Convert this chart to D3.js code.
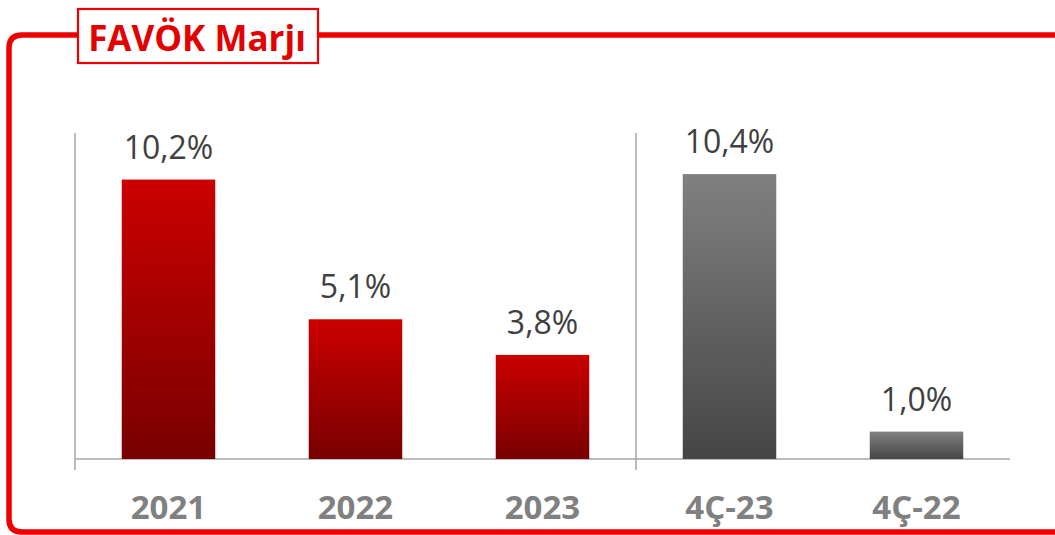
<!DOCTYPE html>
<html>
<head>
<meta charset="utf-8">
<script src="https://cdn.jsdelivr.net/npm/d3@7"></script>
<style>
  body { margin: 0; background: #fff; }
  svg { display: block; font-family: "Open Sans", sans-serif; }
</style>
</head>
<body>
<div class="chart"></div>
<script>
var svgWidth = 1055;
var svgHeight = 535;

// data
var categories = ["2021", "2022", "2023", "4Ç-23", "4Ç-22"];
var values = [10.2, 5.1, 3.8, 10.4, 1.0];
var valueLabels = ["10,2%", "5,1%", "3,8%", "10,4%", "1,0%"];
var groups = ["year", "year", "year", "quarter", "quarter"];
var title = "FAVÖK Marjı";

var svg = d3.select(".chart")
  .append("svg")
  .attr("width", svgWidth)
  .attr("height", svgHeight);

var defs = svg.append("defs");
var redGrad = defs.append("linearGradient")
  .attr("id", "gradRed").attr("x1", 0).attr("y1", 0).attr("x2", 0).attr("y2", 1);
redGrad.append("stop").attr("offset", "0%").attr("stop-color", "#cc0000");
redGrad.append("stop").attr("offset", "100%").attr("stop-color", "#780000");
var greyGrad = defs.append("linearGradient")
  .attr("id", "gradGrey").attr("x1", 0).attr("y1", 0).attr("x2", 0).attr("y2", 1);
greyGrad.append("stop").attr("offset", "0%").attr("stop-color", "#808080");
greyGrad.append("stop").attr("offset", "100%").attr("stop-color", "#454545");

// red frame (open on the right)
var frameColor = "#ee0000";
svg.append("path")
  .attr("d", "M1060,35 L22,35 Q9,35 9,48 L9,519 Q9,532 22,532 L1060,532")
  .attr("fill", "none")
  .attr("stroke", frameColor)
  .attr("stroke-width", 5.5);

// title box
svg.append("rect")
  .attr("x", 78).attr("y", 9)
  .attr("width", 240).attr("height", 54)
  .attr("fill", "#fff")
  .attr("stroke", frameColor)
  .attr("stroke-width", 2.2);

svg.append("text")
  .attr("x", 197).attr("y", 51)
  .attr("text-anchor", "middle")
  .attr("fill", "#e30000")
  .attr("font-weight", "bold")
  .attr("font-size", "35px")
  .text(title);

// scales
var x = d3.scaleBand()
  .domain(categories)
  .range([75, 1010])
  .paddingInner(0.5)
  .paddingOuter(0.25);

var y = d3.scaleLinear()
  .domain([0, 11.9])
  .range([459, 133]);

var axisColor = "#a6a6a6";

// baseline
svg.append("line")
  .attr("x1", 75).attr("x2", 1010)
  .attr("y1", y(0)).attr("y2", y(0))
  .attr("stroke", axisColor).attr("stroke-width", 1.5);

// vertical axis + separator between year and quarter groups
var sepX = [75, (x("2023") + x.bandwidth() + x("4Ç-23")) / 2];
svg.selectAll(".sep")
  .data(sepX)
  .enter()
  .append("line")
  .attr("class", "sep")
  .attr("x1", d => d).attr("x2", d => d)
  .attr("y1", y(11.9)).attr("y2", y(0) + 11)
  .attr("stroke", axisColor).attr("stroke-width", 1.5);

// bars
svg.selectAll(".bar")
  .data(categories)
  .enter()
  .append("rect")
  .attr("class", "bar")
  .attr("x", d => x(d))
  .attr("width", x.bandwidth())
  .attr("y", (d, i) => y(values[i]))
  .attr("height", (d, i) => y(0) - y(values[i]))
  .attr("fill", (d, i) => groups[i] == "year" ? "url(#gradRed)" : "url(#gradGrey)");

// value labels
svg.selectAll(".val")
  .data(categories)
  .enter()
  .append("text")
  .attr("class", "val")
  .attr("x", d => x(d) + x.bandwidth() / 2)
  .attr("y", (d, i) => y(values[i]) - 21)
  .attr("text-anchor", "middle")
  .attr("fill", "#404040")
  .attr("font-size", "32px")
  .text((d, i) => valueLabels[i]);

// category labels
svg.selectAll(".cat")
  .data(categories)
  .enter()
  .append("text")
  .attr("class", "cat")
  .attr("x", d => x(d) + x.bandwidth() / 2)
  .attr("y", 519)
  .attr("text-anchor", "middle")
  .attr("fill", "#808080")
  .attr("font-weight", "bold")
  .attr("font-size", "33px")
  .text(d => d);
</script>
</body>
</html>
